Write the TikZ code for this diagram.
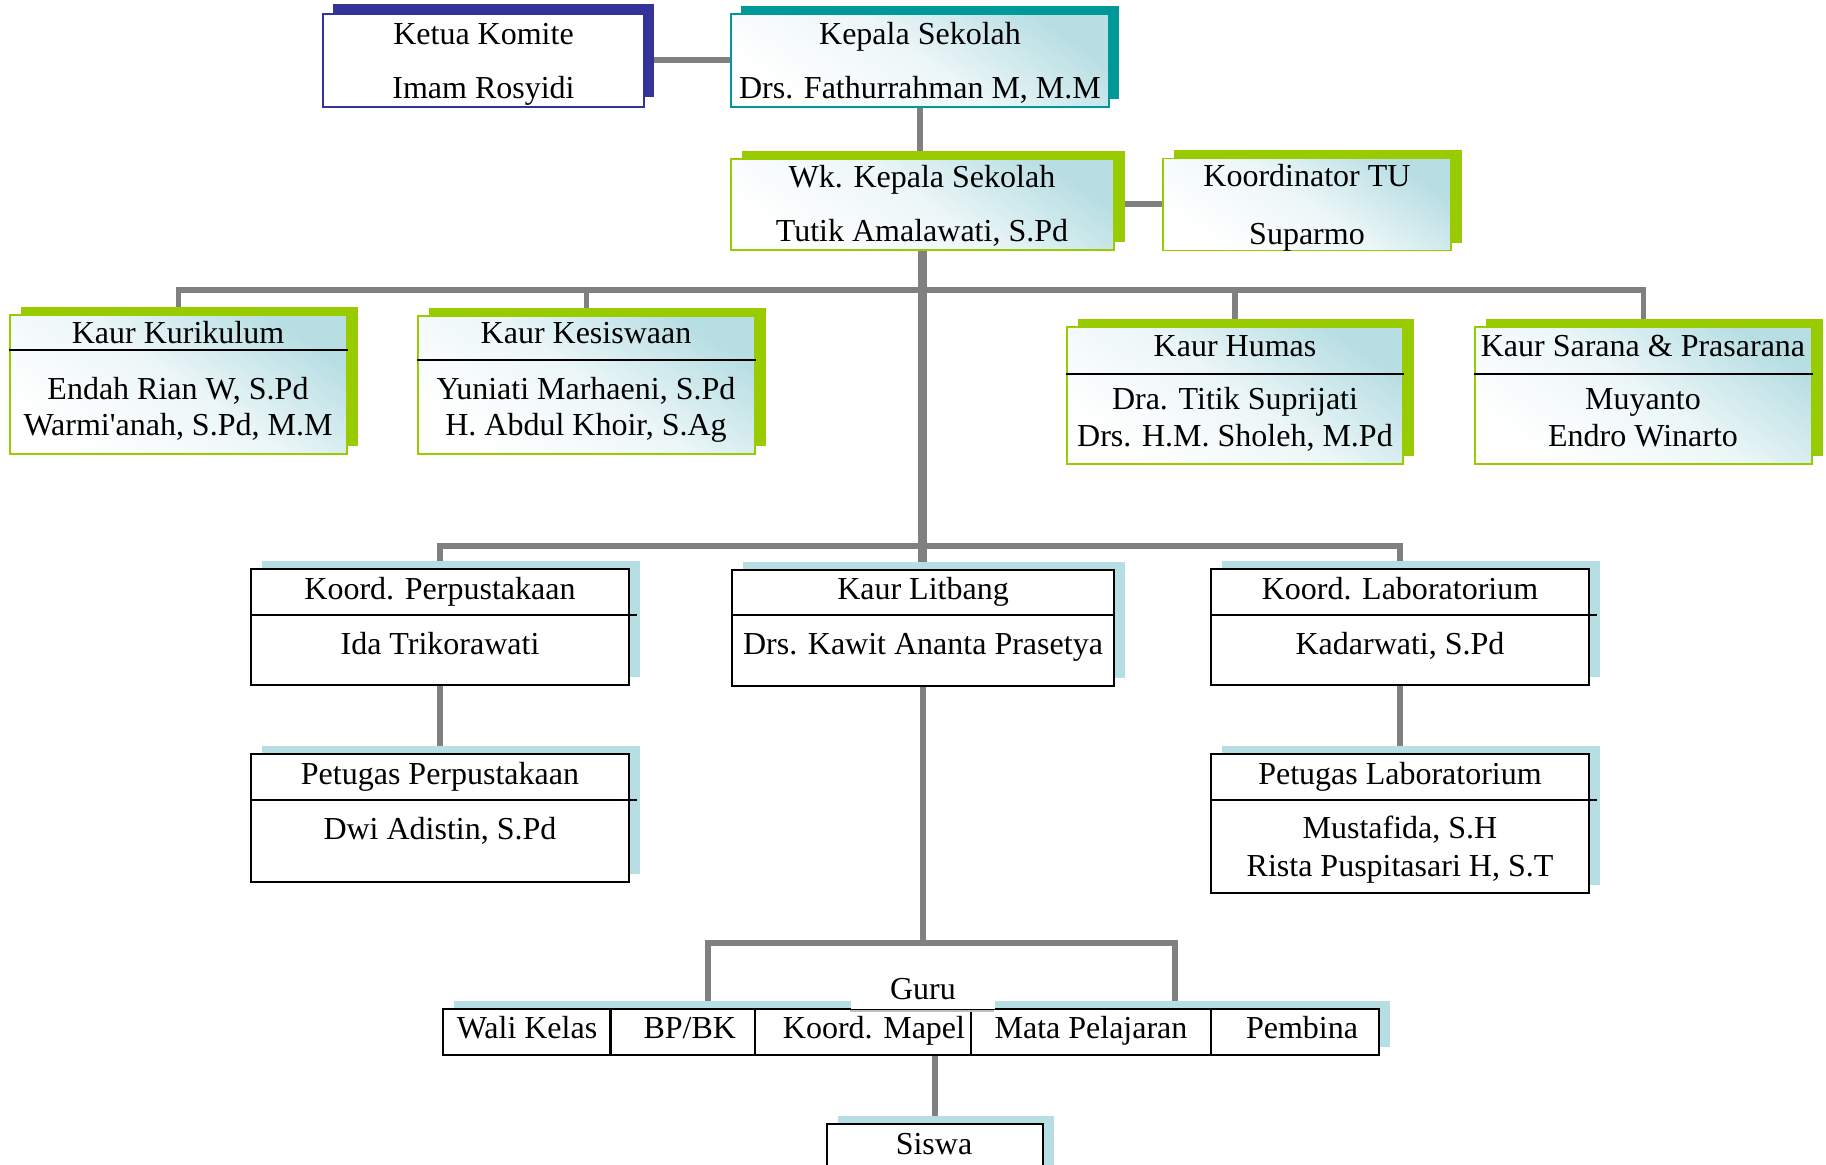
\documentclass[tikz,border=0pt]{standalone}
\usepackage{fontspec}
\setmainfont{Liberation Serif}
\usetikzlibrary{shadows}
\usetikzlibrary{backgrounds}

\definecolor{komblue}{RGB}{51,51,153}
\definecolor{kepteal}{RGB}{0,153,153}
\definecolor{limegreen}{RGB}{153,204,0}
\definecolor{paleblue}{RGB}{183,222,227}
\definecolor{linkgray}{RGB}{128,128,128}

\tikzset{
    kombox/.style={draw=komblue, line width=0.5pt, fill=white, inner sep=0pt,
        general shadow={fill=komblue, shadow xshift=0.1cm, shadow yshift=0.1cm}},
    kepbox/.style={draw=kepteal, line width=0.5pt, inner sep=0pt,
        top color=paleblue, bottom color=white, middle color=paleblue!25!white, shading angle=-35,
        general shadow={fill=kepteal, shadow xshift=0.1cm, shadow yshift=0.08cm}},
    kaurbox/.style={draw=limegreen, line width=0.5pt, inner sep=0pt,
        top color=paleblue, bottom color=white, middle color=paleblue!25!white, shading angle=-35,
        general shadow={fill=limegreen, shadow xshift=0.11cm, shadow yshift=0.08cm}},
    unitbox/.style={draw=black, line width=0.6pt, fill=white, inner sep=0pt,
        general shadow={fill=paleblue, shadow xshift=0.11cm, shadow yshift=0.08cm}},
    cell/.style={draw=black, line width=0.6pt, inner sep=0pt, minimum height=0.46cm,
        text height=0.22cm, text depth=0.08cm},
    txt/.style={anchor=base, inner sep=0pt},
    divider/.style={draw=black, line width=0.6pt},
    link/.style={draw=linkgray, line width=1.7pt},
    trunk/.style={draw=linkgray, line width=2.6pt}
}

\begin{document}
\begin{tikzpicture}[x=0.01cm, y=-0.01cm, font=\fontsize{9.1}{10.2}\selectfont]
    \useasboundingbox (0,0) rectangle (1826,1165);

    % pimpinan
    \node [kombox, minimum width=3.21cm, minimum height=0.93cm] (ketua) at (483.5,60.5) {};
    \node [txt] (ketua-a) at (483.5,45) {Ketua Komite};
    \node [txt] (ketua-b) at (483.5,99) {Imam Rosyidi};

    \node [kepbox, minimum width=3.78cm, minimum height=0.93cm] (kepala) at (920,60.5) {};
    \node [txt] (kepala-a) at (920,45) {Kepala Sekolah};
    \node [txt] (kepala-b) at (920,99) {Drs. Fathurrahman M, M.M};

    \node [kaurbox, minimum width=3.83cm, minimum height=0.91cm] (wakil) at (922.5,204.5) {};
    \node [txt] (wakil-a) at (922,188) {Wk. Kepala Sekolah};
    \node [txt] (wakil-b) at (922,242) {Tutik Amalawati, S.Pd};

    \node [kaurbox, minimum width=2.88cm, minimum height=0.92cm] (tu) at (1307,204.5) {};
    \node [txt] (tu-a) at (1307,187) {Koordinator TU};
    \node [txt] (tu-b) at (1307,245) {Suparmo};

    % kaur
    \node [kaurbox, minimum width=3.37cm, minimum height=1.39cm] (kurikulum) at (178.5,384.5) {};
    \draw [divider] ([yshift=-0.36cm]kurikulum.north west) -- ([yshift=-0.36cm]kurikulum.north east);
    \node [txt] (kurikulum-a) at (178,344) {Kaur Kurikulum};
    \node [txt] (kurikulum-b) at (178,400) {Endah Rian W, S.Pd};
    \node [txt] (kurikulum-c) at (178,436) {Warmi\textquotesingle anah, S.Pd, M.M};

    \node [kaurbox, minimum width=3.37cm, minimum height=1.38cm] (kesiswaan) at (586.5,385) {};
    \draw [divider] ([yshift=-0.45cm]kesiswaan.north west) -- ([yshift=-0.45cm]kesiswaan.north east);
    \node [txt] (kesiswaan-a) at (586,344) {Kaur Kesiswaan};
    \node [txt] (kesiswaan-b) at (586,400) {Yuniati Marhaeni, S.Pd};
    \node [txt] (kesiswaan-c) at (586,436) {H. Abdul Khoir, S.Ag};

    \node [kaurbox, minimum width=3.36cm, minimum height=1.37cm] (humas) at (1235,395.3) {};
    \draw [divider] ([yshift=-0.48cm]humas.north west) -- ([yshift=-0.48cm]humas.north east);
    \node [txt] (humas-a) at (1235,357) {Kaur Humas};
    \node [txt] (humas-b) at (1235,410) {Dra. Titik Suprijati};
    \node [txt] (humas-c) at (1235,447) {Drs. H.M. Sholeh, M.Pd};

    \node [kaurbox, minimum width=3.37cm, minimum height=1.37cm] (sarana) at (1643.5,395.3) {};
    \draw [divider] ([yshift=-0.48cm]sarana.north west) -- ([yshift=-0.48cm]sarana.north east);
    \node [txt] (sarana-a) at (1643,357) {Kaur Sarana \& Prasarana};
    \node [txt] (sarana-b) at (1643,410) {Muyanto};
    \node [txt] (sarana-c) at (1643,447) {Endro Winarto};

    % koordinator
    \node [unitbox, minimum width=3.785cm, minimum height=1.16cm] (perpus) at (440,627) {};
    \draw [divider] ([yshift=-0.47cm]perpus.north west) -- ([xshift=0.07cm, yshift=-0.47cm]perpus.north east);
    \node [txt] (perpus-a) at (440,600) {Koord. Perpustakaan};
    \node [txt] (perpus-b) at (440,655) {Ida Trikorawati};

    \node [unitbox, minimum width=3.82cm, minimum height=1.16cm] (litbang) at (923,628) {};
    \draw [divider] ([yshift=-0.46cm]litbang.north west) -- ([yshift=-0.46cm]litbang.north east);
    \node [txt] (litbang-a) at (923,600) {Kaur Litbang};
    \node [txt] (litbang-b) at (923,655) {Drs. Kawit Ananta Prasetya};

    \node [unitbox, minimum width=3.78cm, minimum height=1.16cm] (lab) at (1400,627) {};
    \draw [divider] ([yshift=-0.47cm]lab.north west) -- ([xshift=0.07cm, yshift=-0.47cm]lab.north east);
    \node [txt] (lab-a) at (1400,600) {Koord. Laboratorium};
    \node [txt] (lab-b) at (1400,655) {Kadarwati, S.Pd};

    \node [unitbox, minimum width=3.785cm, minimum height=1.28cm] (petperpus) at (440,818) {};
    \draw [divider] ([yshift=-0.47cm]petperpus.north west) -- ([xshift=0.07cm, yshift=-0.47cm]petperpus.north east);
    \node [txt] (petperpus-a) at (440,785) {Petugas Perpustakaan};
    \node [txt] (petperpus-b) at (440,840) {Dwi Adistin, S.Pd};

    \node [unitbox, minimum width=3.78cm, minimum height=1.39cm] (petlab) at (1400,823.5) {};
    \draw [divider] ([yshift=-0.47cm]petlab.north west) -- ([xshift=0.07cm, yshift=-0.47cm]petlab.north east);
    \node [txt] (petlab-a) at (1400,785) {Petugas Laboratorium};
    \node [txt] (petlab-b) at (1400,839) {Mustafida, S.H};
    \node [txt] (petlab-c) at (1400,877) {Rista Puspitasari H, S.T};

    % guru
    \node [unitbox, minimum width=9.356cm, minimum height=0.46cm] (gurubar) at (911.2,1032) {};
    \node [cell, minimum width=1.671cm] (wali) at (527,1032) {Wali Kelas};
    \node [cell, minimum width=1.445cm] (bpbk) at (682.75,1032) {\hspace*{0.14cm}BP/BK};
    \node [cell, minimum width=2.16cm] (mapel) at (863,1032) {\hspace*{0.22cm}Koord. Mapel};
    \node [cell, minimum width=2.40cm] (matpel) at (1091,1032) {Mata Pelajaran};
    \node [cell, minimum width=1.68cm] (pembina) at (1295,1032) {\hspace*{0.14cm}Pembina};
    \node [fill=white, inner sep=0pt, minimum width=1.44cm, text height=0.31cm, text depth=0.1cm,
        anchor=south] (guru) at (923,1010) {Guru};
    \draw [gray!50, line width=0.4pt] (guru.south west) ++(0,1) -- ++(144,0);

    \node [unitbox, minimum width=2.16cm, minimum height=0.80cm] (siswa) at (935,1164) {};
    \node [txt] (siswa-a) at (934,1155) {Siswa};

    \coordinate (busA) at (0,290);
    \coordinate (busB) at (0,546);
    \coordinate (busC) at (0,943);
    \coordinate (guruL) at (708,1009);
    \coordinate (guruR) at (1175,1009);

    \begin{scope}[on background layer]
        \draw [link] (ketua) -- (kepala);
        \draw [link] (kepala) -- (kepala |- wakil.north);
        \draw [link] (wakil) -- (tu);
        \draw [trunk] (wakil.south) -- (wakil.south |- litbang.north);
        \draw [link] (kurikulum.north) -- (kurikulum.north |- busA) -- (sarana.north |- busA) -- (sarana.north);
        \draw [link] (kesiswaan.north) -- (kesiswaan.north |- busA);
        \draw [link] (humas.north) -- (humas.north |- busA);
        \draw [link] (perpus.north) -- (perpus.north |- busB) -- (lab.north |- busB) -- (lab.north);
        \draw [link] (perpus) -- (petperpus);
        \draw [link] (lab) -- (petlab);
        \draw [link] (litbang.south) -- (litbang.south |- busC);
        \draw [link] (guruL) -- (guruL |- busC) -- (guruR |- busC) -- (guruR);
        \draw [link] (siswa.north |- gurubar.south) -- (siswa.north);
    \end{scope}
\end{tikzpicture}
\end{document}
